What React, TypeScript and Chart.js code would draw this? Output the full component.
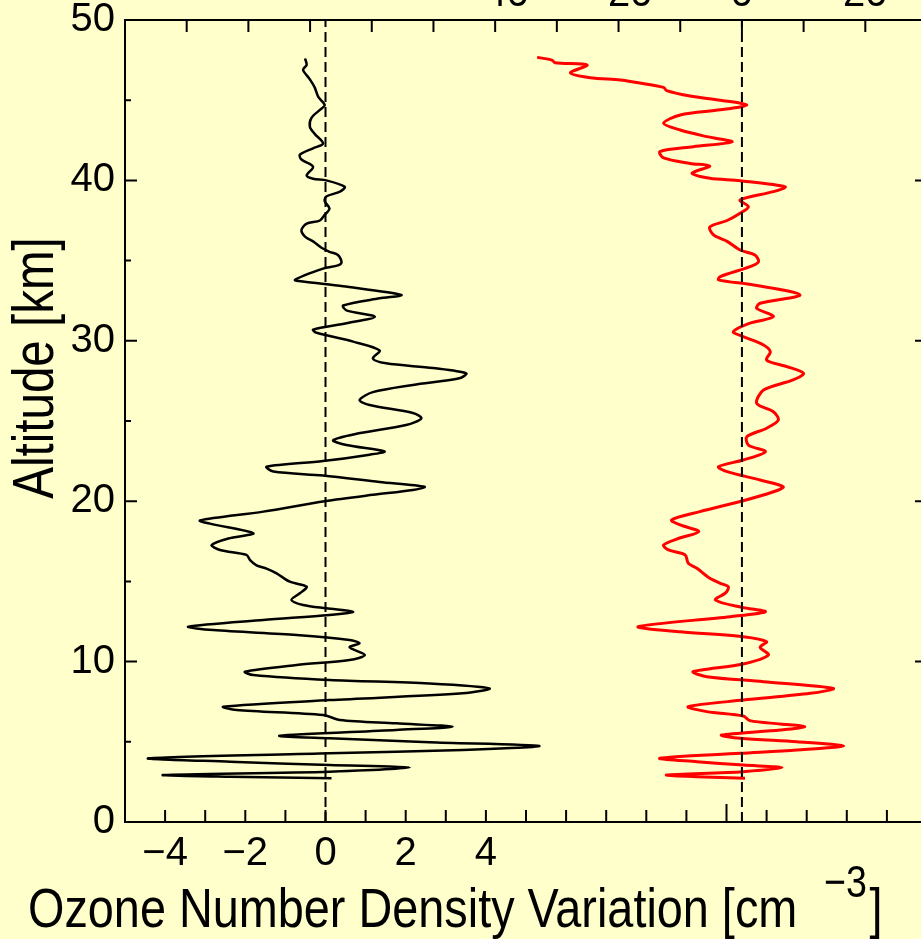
import React, { useEffect, useRef } from 'react';
import { Chart, registerables } from 'chart.js';

Chart.register(...registerables);

// ---- Data (altitude in km, variation values) ----
const blackAlt = [47.6, 47.2, 46.9, 46.3, 45.8, 45.2, 44.7, 44.4, 43.9, 43.35, 42.9, 42.3, 42.0, 41.6, 41.3, 40.85, 40.3, 40.1, 40.0, 39.6, 39.3, 39.0, 38.7, 38.25, 37.85, 37.5, 37.3, 36.9, 36.5, 36.2, 35.8, 35.55, 35.35, 34.9, 34.7, 34.5, 33.8, 33.7, 33.4, 32.86, 32.65, 32.2, 31.9, 31.5, 31.1, 30.7, 30.5, 29.95, 29.4, 28.9, 28.6, 28.3, 27.97, 27.66, 27.25, 26.8, 26.3, 26.0, 25.5, 25.17, 24.75, 24.2, 23.8, 23.5, 23.1, 22.9, 22.5, 22.15, 21.85, 21.6, 21.2, 20.9, 20.7, 20.4, 20.0, 19.35, 18.8, 18.6, 18.0, 17.7, 17.27, 16.96, 16.65, 16.33, 16.0, 15.8, 15.5, 14.98, 14.67, 14.26, 13.84, 13.53, 13.32, 13.11, 12.9, 12.6, 12.18, 11.97, 11.66, 11.35, 11.14, 10.89, 10.41, 10.1, 9.79, 9.37, 9.16, 8.85, 8.64, 8.33, 8.02, 7.6, 7.19, 6.98, 6.67, 6.36, 6.15, 5.94, 5.74, 5.38, 5.22, 4.97, 4.74, 4.49, 4.28, 3.97, 3.76, 3.55, 3.39, 3.14, 2.93, 2.82, 2.72];
const blackVal = [-0.51, -0.47, -0.56, -0.39, -0.27, -0.18, -0.02, -0.14, -0.35, -0.39, -0.27, -0.06, -0.31, -0.64, -0.6, -0.31, -0.47, -0.31, 0.02, 0.48, 0.36, 0.02, -0.02, 0.1, -0.02, -0.14, -0.47, -0.6, -0.51, -0.31, -0.1, 0.1, 0.31, 0.4, 0.31, -0.06, -0.76, -0.56, 0.44, 1.89, 1.35, 0.44, 0.52, 1.23, 0.52, -0.31, -0.22, 0.69, 1.35, 1.18, 1.51, 2.68, 3.51, 3.34, 2.18, 1.18, 0.85, 1.1, 2.18, 2.39, 2.01, 0.77, 0.19, 0.52, 1.47, 1.1, -0.06, -1.47, -1.3, -0.06, 1.35, 2.47, 2.18, 1.18, -0.02, -1.55, -3.13, -2.88, -1.8, -2.38, -2.84, -2.63, -1.97, -1.88, -1.72, -1.47, -1.22, -0.89, -0.47, -0.64, -0.85, -0.56, 0.02, 0.69, 0.1, -1.55, -3.42, -2.8, -0.72, 0.6, 0.85, 0.6, 0.98, 0.6, -0.72, -2.01, -1.8, 0.1, 2.59, 4.09, 3.42, 0.1, -2.55, -2.22, -0.06, 0.36, 1.76, 3.17, 1.76, -1.14, 0.1, 2.59, 5.33, 3.42, 0.1, -4.41, -2.38, 0.1, 2.1, 0.1, -4.04, -2.38, 0.15];

const redAlt = [47.67, 47.5, 47.34, 47.2, 46.7, 46.4, 46.26, 46.1, 45.8, 45.6, 45.26, 45.0, 44.7, 44.4, 44.08, 43.56, 43.14, 42.73, 42.4, 42.1, 41.8, 41.4, 41.06, 40.9, 40.44, 40.13, 39.98, 39.6, 39.3, 38.78, 38.36, 37.95, 37.5, 37.1, 36.6, 36.2, 35.66, 35.35, 34.93, 34.62, 34.0, 33.8, 33.48, 32.86, 32.34, 32.03, 31.5, 31.1, 30.57, 30.26, 29.74, 29.32, 28.8, 28.39, 27.97, 27.56, 26.93, 26.1, 25.58, 25.06, 24.55, 24.02, 23.5, 23.09, 22.57, 22.15, 21.84, 21.32, 20.9, 20.59, 20.03, 19.35, 18.83, 18.52, 18.1, 17.69, 17.27, 16.96, 16.65, 16.13, 15.82, 15.19, 14.88, 14.67, 14.3, 13.84, 13.38, 13.11, 12.8, 12.18, 11.86, 11.55, 11.24, 10.89, 10.41, 9.85, 9.37, 9.06, 8.75, 8.33, 8.02, 7.6, 7.19, 6.88, 6.61, 6.32, 6.11, 5.94, 5.74, 5.42, 5.22, 5.0, 4.74, 4.49, 4.28, 3.97, 3.76, 3.55, 3.39, 3.14, 2.93, 2.82, 2.72];
const redVal = [-33.2, -30.8, -30.3, -25.1, -27.8, -24.6, -19.7, -17.0, -12.7, -12.2, -8.4, -3.5, 0.8, -3.5, -10.0, -12.7, -10.0, -5.7, -1.6, -7.9, -13.3, -12.7, -8.4, -5.2, -8.1, -5.2, -0.3, 7.0, 5.1, -0.3, 1.05, -0.3, -2.4, -5.2, -4.6, -2.4, -0.3, 2.1, 2.7, 1.3, -3.5, -3.8, 1.9, 9.4, 2.95, 2.4, 5.1, 1.3, -1.4, 0.2, 3.5, 4.6, 4.0, 7.3, 10.0, 8.3, 3.5, 2.4, 5.1, 5.9, 4.0, 0.8, 1.05, 3.8, 0.2, -3.8, -2.4, 2.95, 6.7, 5.1, 0.2, -6.8, -11.4, -10.0, -7.0, -10.2, -12.7, -11.9, -9.2, -8.7, -7.3, -5.2, -3.5, -2.2, -2.6, -4.3, 0.0, 3.8, -1.9, -16.8, -10.0, 0.2, 4.0, 2.95, 4.3, 0.2, -7.9, -5.7, 3.5, 14.8, 11.1, 0.2, -8.7, -5.7, 0.2, 1.3, 6.2, 10.2, 6.2, -3.3, -0.3, 8.9, 16.5, 8.9, -0.3, -13.3, -7.3, 0.2, 6.5, 0.2, -12.2, -7.3, 0.5];

// ---- Axes ----
const altRange = [0, 50];
const bottomRange = [-5, 15];
const topRange = [-100, 30];
const bottomLabels = [-4, -2, 0, 2, 4];
const topLabels = [-40, -20, 0, 20];
const zeroLine = [0, 0];

const W = 980;
const H = 979;
const OFF = 40; // canvas shifted up so top-axis labels are cut off
const FONT = "'Liberation Sans', Arial, Helvetica, sans-serif";
const BG = '#FFFFCC';
const SQUEEZE = 0.836; // condensed look of the original lettering

const fmt = (v: number) => (v < 0 ? '\u2212' + Math.abs(v) : String(v));

const decor = {
  id: 'decor',
  beforeDraw(chart: any) {
    const ctx = chart.ctx;
    ctx.save();
    ctx.fillStyle = BG;
    ctx.fillRect(0, 0, chart.width, chart.height);
    ctx.restore();
  },
  afterDraw(chart: any) {
    const ctx = chart.ctx;
    const { left, right, top, bottom } = chart.chartArea;
    const y = chart.scales.y;
    const x = chart.scales.x;
    const x2 = chart.scales.x2;
    ctx.save();
    ctx.strokeStyle = '#000';
    ctx.lineWidth = 2;
    ctx.beginPath();
    for (let v = altRange[0]; v <= altRange[1]; v += 5) {
      const py = y.getPixelForValue(v);
      const len = v % 10 === 0 ? 12 : 6;
      ctx.moveTo(left, py);
      ctx.lineTo(left + len, py);
      ctx.moveTo(right, py);
      ctx.lineTo(right - len, py);
    }
    for (let v = bottomRange[0]; v <= bottomRange[1]; v += 1) {
      const px = x.getPixelForValue(v);
      const len = v === 10 ? 18 : 12;
      ctx.moveTo(px, bottom);
      ctx.lineTo(px, bottom - len);
    }
    for (let v = topRange[0]; v <= topRange[1]; v += 10) {
      const px = x2.getPixelForValue(v);
      ctx.moveTo(px, top);
      ctx.lineTo(px, top + 12);
    }
    ctx.stroke();

    ctx.fillStyle = '#000';
    ctx.textBaseline = 'alphabetic';

    // Y title (rotated, condensed along the text)
    ctx.save();
    ctx.translate(53, 368 + OFF);
    ctx.rotate(-Math.PI / 2);
    ctx.scale(0.82, 1);
    ctx.font = `58px ${FONT}`;
    ctx.textAlign = 'center';
    ctx.fillText('Altitude [km]', 0, 0);
    ctx.restore();

    // X title with superscript (condensed)
    const main = 'Ozone Number Density Variation [cm';
    const base = 927 + OFF;
    ctx.save();
    ctx.translate(28, base);
    ctx.scale(SQUEEZE, 1);
    ctx.textAlign = 'left';
    ctx.font = `56px ${FONT}`;
    ctx.fillText(main, 0, 0);
    let cx = ctx.measureText(main).width + 32;
    ctx.font = `45px ${FONT}`;
    ctx.fillText('\u22123', cx, -30);
    cx += ctx.measureText('\u22123').width + 3;
    ctx.font = `56px ${FONT}`;
    ctx.fillText(']', cx, 0);
    ctx.restore();

    ctx.restore();
  },
};

export default function App() {
  const ref = useRef<HTMLCanvasElement | null>(null);
  useEffect(() => {
    if (!ref.current) return;
    const toXY = (xs: number[], ys: number[]) => xs.map((v, i) => ({ x: v, y: ys[i] }));
    const tickFont = { family: FONT, size: 40 };
    const chart = new Chart(ref.current, {
      type: 'scatter',
      data: {
        datasets: [
          {
            data: toXY(zeroLine, altRange),
            xAxisID: 'x',
            yAxisID: 'y',
            showLine: true,
            borderColor: '#000',
            borderWidth: 2,
            borderDash: [10, 5],
            pointRadius: 0,
          },
          {
            data: toXY(zeroLine, altRange),
            xAxisID: 'x2',
            yAxisID: 'y',
            showLine: true,
            borderColor: '#000',
            borderWidth: 2,
            borderDash: [10, 5],
            pointRadius: 0,
          },
          {
            data: toXY(redVal, redAlt),
            xAxisID: 'x2',
            yAxisID: 'y',
            showLine: true,
            borderColor: '#FF0000',
            borderWidth: 3,
            pointRadius: 0,
            tension: 0.3,
          },
          {
            data: toXY(blackVal, blackAlt),
            xAxisID: 'x',
            yAxisID: 'y',
            showLine: true,
            borderColor: '#000',
            borderWidth: 2.5,
            pointRadius: 0,
            tension: 0.3,
          },
        ],
      },
      options: {
        responsive: false,
        maintainAspectRatio: false,
        animation: false,
        layout: { padding: 0 },
        plugins: { legend: { display: false }, tooltip: { enabled: false }, title: { display: false } },
        scales: {
          x: {
            type: 'linear',
            position: 'bottom',
            min: bottomRange[0],
            max: bottomRange[1],
            grid: { display: false, drawTicks: false },
            border: { display: true, color: '#000', width: 2 },
            ticks: {
              stepSize: 1,
              autoSkip: false,
              maxRotation: 0,
              padding: 8,
              color: '#000',
              font: tickFont,
              callback: (v: any) => (bottomLabels.includes(Math.round(v)) ? fmt(Math.round(v)) : ''),
            },
            afterFit: (s: any) => { s.height = H - (822 + OFF); },
          },
          x2: {
            type: 'linear',
            position: 'top',
            min: topRange[0],
            max: topRange[1],
            grid: { display: false, drawTicks: false },
            border: { display: true, color: '#000', width: 2 },
            ticks: {
              stepSize: 10,
              autoSkip: false,
              maxRotation: 0,
              padding: 1,
              color: '#000',
              font: tickFont,
              callback: (v: any) => (topLabels.includes(Math.round(v)) ? fmt(Math.round(v)) : ''),
            },
            afterFit: (s: any) => { s.height = 20 + OFF; },
          },
          y: {
            type: 'linear',
            position: 'left',
            min: altRange[0],
            max: altRange[1],
            grid: { display: false, drawTicks: false },
            border: { display: true, color: '#000', width: 2 },
            ticks: {
              stepSize: 10,
              padding: 10,
              color: '#000',
              font: tickFont,
              callback: (v: any) => String(v),
            },
            afterFit: (s: any) => { s.width = 125; },
          },
          y2: {
            type: 'linear',
            position: 'right',
            min: altRange[0],
            max: altRange[1],
            grid: { display: false, drawTicks: false },
            border: { display: true, color: '#000', width: 2 },
            ticks: { display: false },
            afterFit: (s: any) => { s.width = W - 927; },
          },
        },
      },
      plugins: [decor],
    });
    return () => chart.destroy();
  }, []);

  return (
    <div style={{ position: 'fixed', left: 0, top: 0, width: 921, height: 939, overflow: 'hidden', background: BG }}>
      <canvas
        ref={ref}
        width={W}
        height={H}
        style={{ position: 'absolute', left: 0, top: -OFF, width: W, height: H }}
      />
    </div>
  );
}
